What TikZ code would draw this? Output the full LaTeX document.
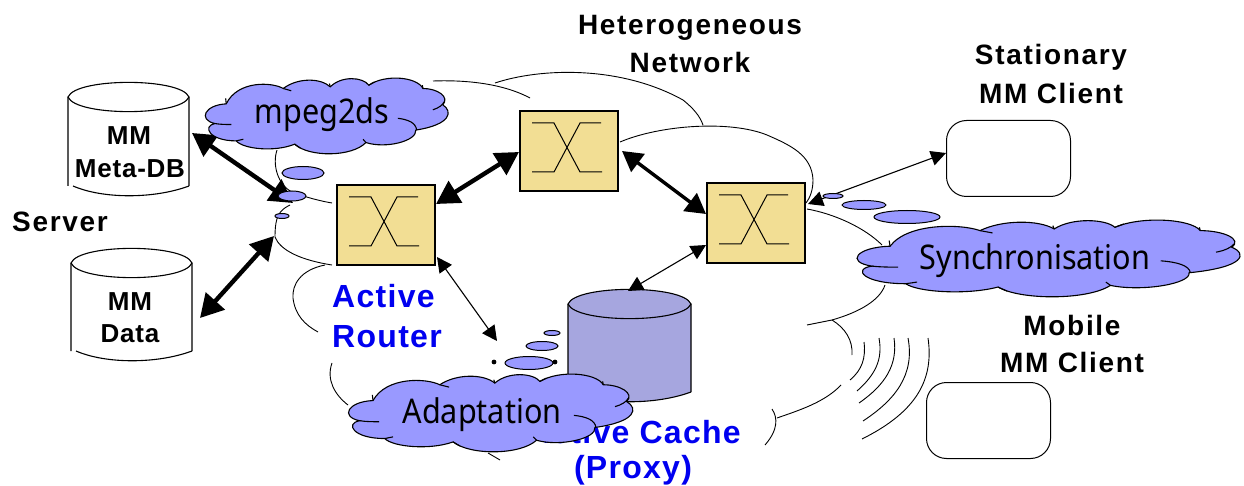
\documentclass[tikz,border=0pt]{standalone}
\usepackage{fontspec}
\setmainfont{Liberation Sans}
\newfontfamily\cloudfont[FakeStretch=0.9]{Noto Sans}
\newfontfamily\labelfont[LetterSpace=6]{Liberation Sans}
\newfontfamily\dbfont[LetterSpace=3]{Liberation Sans}
\newfontfamily\bluefont[LetterSpace=4]{Liberation Sans}
\usetikzlibrary{arrows.meta}
\definecolor{routerfill}{HTML}{F2DE94}
\definecolor{cloudfill}{HTML}{9999FF}
\definecolor{cachefill}{HTML}{A6A6DF}
\definecolor{activeblue}{HTML}{0000F0}
\newcommand{\cloudat}[4]{%
  \begin{scope}[shift={(#1,#2)},xscale=#3/863,yscale=#4/232,shift={(-82,-313)}]
    \draw[cloudline,fill=cloudfill] (160,392)
      .. controls (200,320) and (320,325) .. (360,345)
      .. controls (410,312) and (490,312) .. (525,340)
      .. controls (565,305) and (640,310) .. (660,335)
      .. controls (720,300) and (830,310) .. (850,345)
      .. controls (900,345) and (945,370) .. (920,395)
      .. controls (955,415) and (950,455) .. (825,472)
      .. controls (830,505) and (720,530) .. (650,510)
      .. controls (600,555) and (450,555) .. (400,515)
      .. controls (330,540) and (220,530) .. (195,505)
      .. controls (100,505) and (75,460) .. (120,452)
      .. controls (60,440) and (85,395) .. (160,392) -- cycle;
    \draw[cloudline] (120,452) .. controls (140,455) and (160,455) .. (178,455);
    \draw[cloudline] (762,436) .. controls (800,440) and (825,450) .. (828,472);
    \draw[cloudline] (885,410) .. controls (905,405) and (920,395) .. (925,385);
    \draw[cloudline] (360,345) -- (388,352);
    \draw[cloudline] (525,340) -- (522,330);
    \draw[cloudline] (660,335) -- (680,325);
    \draw[cloudline] (850,345) -- (848,335);
    \draw[cloudline] (400,515) -- (420,527);
    \draw[cloudline] (650,510) -- (640,500);
    \draw[cloudline] (195,505) -- (220,500);
    \draw[cloudline] (160,392) -- (158,375);
  \end{scope}
}
\newcommand{\cyl}[6]{% x left, x right, top centre y, top ry, bottom y, fill
  \path[fill=#6] (#1,#3) .. controls (#1+8,#3-#4*1.3) and (#2-8,#3-#4*1.3) .. (#2,#3) -- (#2,#5) .. controls (#2-35,#5+13) and (#1+35,#5+13) .. (#1,#5) -- cycle;
  \draw[cylline] (#1,#5) -- (#1,#3) .. controls (#1+8,#3-#4*1.3) and (#2-8,#3-#4*1.3) .. (#2,#3) -- (#2,#5);
  \draw[cylline] (#1,#3) .. controls (#1+8,#3+#4*1.3) and (#2-8,#3+#4*1.3) .. (#2,#3);
  \draw[cylline] (#1+5,#5) .. controls (#1+35,#5+13) and (#2-35,#5+13) .. (#2,#5);
}
\newcommand{\switchglyph}[1]{%
  \draw[glyphline] ([shift={(13,13)}]#1.north west) -- ++(22,0) -- ++(26,49) -- ++(22,0);
  \draw[glyphline] ([shift={(13,62)}]#1.north west) -- ++(22,0) -- ++(26,-49) -- ++(21,0);
}
\tikzset{
  x=1pt,y=-1pt,
  cloudline/.style={line width=1.1pt,black},
  cylline/.style={line width=1.1pt,black},
  glyphline/.style={line width=1pt,black},
  thinline/.style={line width=0.9pt,black},
  router/.style={draw=black,line width=1.6pt,fill=routerfill,minimum width=98pt,minimum height=80pt,inner sep=0pt,anchor=north west},
  client/.style={draw=black,line width=1pt,rounded corners=20pt,minimum width=124pt,minimum height=76pt,inner sep=0pt,anchor=north west},
  bubble/.style={draw=black,line width=1pt,fill=cloudfill},
  heavy/.style={line width=4.4pt,{Triangle[length=23pt,width=25pt]}-{Triangle[length=23pt,width=25pt]}},
  heavyb/.style={line width=3.4pt,{Triangle[length=20pt,width=22pt]}-{Triangle[length=20pt,width=22pt]}},
  light/.style={line width=1.1pt,{Triangle[length=15pt,width=15pt]}-{Triangle[length=15pt,width=15pt]}},
  label/.style={font=\labelfont\fontsize{28}{28}\selectfont\bfseries,align=center,inner sep=0pt,text=black},
  dblabel/.style={font=\dbfont\fontsize{26}{26}\selectfont\bfseries,align=center,inner sep=0pt,text=black},
  blabel/.style={font=\bluefont\fontsize{32}{32}\selectfont\bfseries,inner sep=0pt,text=activeblue},
  cloudtext/.style={font=\cloudfont\fontsize{34}{34}\selectfont,inner sep=0pt,text=black},
}
\begin{document}
\begin{tikzpicture}
\useasboundingbox (0,0) rectangle (1244,486);
\fill[white] (0,0) rectangle (1244,486);

% network outline
\draw[thinline] (433,81) .. controls (460,80) and (500,82) .. (530,98);
\draw[thinline] (495,83) .. controls (540,68) and (620,65) .. (683,100) .. controls (693,108) and (700,116) .. (703,125);
\draw[thinline] (620,142) .. controls (660,125) and (730,120) .. (767,135) .. controls (790,145) and (812,155) .. (813,180) .. controls (813,190) and (810,198) .. (806,203);
\draw[thinline] (277,150) .. controls (272,165) and (278,185) .. (292,192) .. controls (305,197) and (320,201) .. (332,203);
\draw[thinline] (290,205) .. controls (280,210) and (275,215) .. (275,237) .. controls (280,250) and (300,260) .. (332,265);
\draw[thinline] (325,265) .. controls (300,270) and (292,285) .. (293,298) .. controls (295,315) and (305,325) .. (318,332);
\draw[thinline] (332,363) .. controls (326,380) and (335,395) .. (348,405);
\draw[thinline] (488,453) -- (500,460);
\draw[thinline] (807,209) .. controls (835,214) and (865,228) .. (882,245);
\draw[thinline] (885,285) .. controls (880,300) and (860,312) .. (832,320) -- (807,325);
\draw[thinline] (832,320) .. controls (845,328) and (853,340) .. (852,355);
\draw[thinline] (841,385) .. controls (825,402) and (800,410) .. (777,418);
\draw[thinline] (772,409) .. controls (778,418) and (778,430) .. (765,445);
% radio waves
\draw[thinline] (864,342) .. controls (866,358) and (862,370) .. (850,380);
\draw[thinline] (879,338) .. controls (883,360) and (875,375) .. (857,391);
\draw[thinline] (894,338) .. controls (898,365) and (885,385) .. (859,403);
\draw[thinline] (908,338) .. controls (915,375) and (895,400) .. (863,421);
\draw[thinline] (928,338) .. controls (935,385) and (910,415) .. (862,439);

% storage
\cyl{68}{189}{97}{15}{186}{white}
\cyl{71}{192}{263}{15}{351}{white}
\cyl{568}{691}{304}{15}{392}{cachefill}
\node[dblabel] (mmA) at (129,136) {MM};
\node[dblabel] (metaDB) at (130,169) {Meta-DB};
\node[dblabel] (mmB) at (130,302) {MM};
\node[dblabel] (dataLabel) at (130,334) {Data};
\node[label] (server) at (60,222) {Server};

% routers
\node[router] (r1) at (336,184) {};
\node[router] (r2) at (519,110) {};
\node[router] (r3) at (706,182) {};
\switchglyph{r1}\switchglyph{r2}\switchglyph{r3}

% clients
\node[client] (stationary) at (946,120) {};
\node[client] (mobile) at (926,382) {};

% labels
\node[label] (hetero) at (690,28) {Heterogeneous};
\node[label] (network) at (690,62) {Network};
\node[label] (statlabel) at (1051,57) {Stationary};
\node[label] (statlabelb) at (1051,93) {MM Client};
\node[label] (moblabel) at (1072,325) {Mobile};
\node[label] (moblabelb) at (1072,362) {MM Client};
\node[blabel,anchor=west] (active) at (332,296) {Active};
\node[blabel,anchor=west] (routerlabel) at (332,337) {Router};
\node[blabel,anchor=east] (cachelabel) at (741,432) {Active Cache};
\node[blabel] (proxy) at (633,470) {(Proxy)};

% free arrow ends
\coordinate (metaEnd) at (192,133);
\coordinate (hubA) at (293,203);
\coordinate (dataEnd) at (200,318);
\coordinate (hubB) at (274,236);
\coordinate (adaptEnd) at (497,341);
\coordinate (cacheTop) at (628,291);
\coordinate (r1E) at (436,204);
\coordinate (r2W) at (519,152);
\coordinate (r2E) at (622,151);
\coordinate (r3W) at (706,214);
\coordinate (r3E) at (808,204);
\coordinate (r3S) at (706,245);
\coordinate (r1S) at (437,257);
\coordinate (statW) at (946,153);

\draw[heavy] (metaEnd) -- (hubA);
\draw[heavy] (dataEnd) -- (hubB);
\draw[heavy] (r1E) -- (r2W);
\draw[heavyb] (r2E) -- (r3W);
\draw[light] (r1S) -- (adaptEnd);
\draw[light] (r3S) -- (cacheTop);
\draw[light] (r3E) -- (statW);

% thought bubbles
\draw[bubble] (303,173) ellipse [x radius=21,y radius=6.5];
\draw[bubble] (292,196) ellipse [x radius=14,y radius=5];
\draw[bubble] (282,216) ellipse [x radius=7,y radius=2.5];
\draw[bubble] (833,196) ellipse [x radius=10,y radius=2.5];
\draw[bubble] (864,205) ellipse [x radius=22,y radius=4.5];
\draw[bubble] (907,217) ellipse [x radius=33,y radius=6.5];
\draw[bubble] (552,333) ellipse [x radius=8,y radius=2.5];
\draw[bubble] (542,346) ellipse [x radius=16,y radius=4.5];
\draw[bubble] (529,363) ellipse [x radius=24,y radius=6.5];
\fill[black] (494,362) circle [radius=2.4];
\fill[black] (555,362) circle [radius=2.4];

% clouds
\cloudat{204}{78}{246}{76}
\cloudat{855}{220}{388}{77}
\cloudat{347}{374}{288}{78}
\node[cloudtext] (mpeg) at (322,115) {mpeg2ds};
\node[cloudtext] (sync) at (1035,261) {Synchronisation};
\node[cloudtext] (adapt) at (482,415) {Adaptation};
\end{tikzpicture}
\end{document}
